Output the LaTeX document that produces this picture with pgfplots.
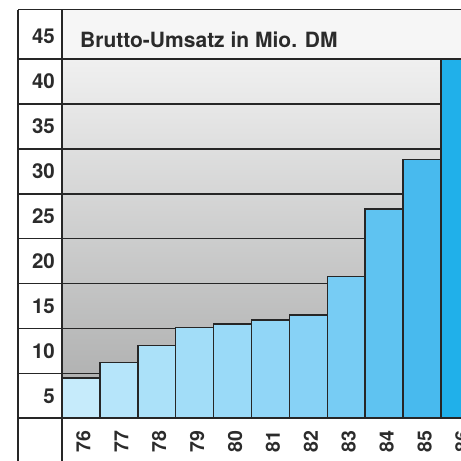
\documentclass[border=0pt]{standalone}
\usepackage{fontspec}
\setmainfont{TeX Gyre Heros}
\usepackage{pgfplots}
\pgfplotsset{compat=1.18}
\definecolor{lc}{HTML}{262626}
\definecolor{tc}{HTML}{2B2B2B}
\definecolor{tband}{HTML}{F6F6F6}
\definecolor{gtop}{HTML}{F0F0F0}
\definecolor{gmid}{HTML}{C8C9C9}
\definecolor{gbot}{HTML}{A9AAAA}
\definecolor{b76}{HTML}{C6EBFB}
\definecolor{b77}{HTML}{B6E5FA}
\definecolor{b78}{HTML}{ABE1F9}
\definecolor{b79}{HTML}{A2DDF8}
\definecolor{b80}{HTML}{9ADAF8}
\definecolor{b81}{HTML}{91D6F7}
\definecolor{b82}{HTML}{87D2F6}
\definecolor{b83}{HTML}{77CCF4}
\definecolor{b84}{HTML}{5FC3F1}
\definecolor{b85}{HTML}{48BAEE}
\definecolor{b86}{HTML}{20B0EA}
\begin{document}
\begin{tikzpicture}
\begin{axis}[
  set layers,
  at={(62pt,42.7pt)}, anchor=south west,
  scale only axis, width=416.9pt, height=408.6pt,
  xmin=-0.5, xmax=10.5, ymin=0, ymax=45.5,
  axis line style={draw=none},
  major tick length=0pt,
  clip=false,
  xtick={0,1,2,3,4,5,6,7,8,9,10},
  xticklabels={\textbf{76},\textbf{77},\textbf{78},\textbf{79},\textbf{80},\textbf{81},\textbf{82},\textbf{83},\textbf{84},\textbf{85},\textbf{86}},
  ytick={2.5,7.5,12.5,17.5,22.5,27.5,32.5,37.5,42.5},
  yticklabels={\textbf{5},\textbf{10},\textbf{15},\textbf{20},\textbf{25},\textbf{30},\textbf{35},\textbf{40},\textbf{45}},
  /pgf/number format/assume math mode=true,
  x tick label style={xshift=2.5pt, rotate=90, anchor=east, inner sep=0pt,
    font=\fontsize{19.5}{22}\selectfont\bfseries, text=tc},
  xticklabel shift=12pt,
  y tick label style={anchor=east, inner sep=0pt,
    font=\fontsize{20.5}{23}\selectfont\bfseries, text=tc},
  yticklabel shift=7pt,
  every axis plot/.append style={ybar, bar width=1, bar shift=0pt, draw=lc, line width=1.5pt},
]
\begin{pgfonlayer}{axis background}
\fill[tband] (axis cs:-0.5,40) rectangle (axis cs:11,45.5);
\shade[top color=gtop, middle color=gmid, bottom color=gbot] (axis cs:-0.5,0) rectangle (axis cs:10.5,40);
\draw[lc, line width=1.6pt] (axis cs:-1.661,5) -- (axis cs:10.5,5);
\draw[lc, line width=1.6pt] (axis cs:-1.661,10) -- (axis cs:10.5,10);
\draw[lc, line width=1.6pt] (axis cs:-1.661,15) -- (axis cs:10.5,15);
\draw[lc, line width=1.6pt] (axis cs:-1.661,20) -- (axis cs:10.5,20);
\draw[lc, line width=1.6pt] (axis cs:-1.661,25) -- (axis cs:10.5,25);
\draw[lc, line width=1.6pt] (axis cs:-1.661,30) -- (axis cs:10.5,30);
\draw[lc, line width=1.6pt] (axis cs:-1.661,35) -- (axis cs:10.5,35);
\end{pgfonlayer}
\addplot[fill=b76] coordinates {(0,4.5)};
\addplot[fill=b77] coordinates {(1,6.2)};
\addplot[fill=b78] coordinates {(2,8.1)};
\addplot[fill=b79] coordinates {(3,10.1)};
\addplot[fill=b80] coordinates {(4,10.5)};
\addplot[fill=b81] coordinates {(5,10.95)};
\addplot[fill=b82] coordinates {(6,11.5)};
\addplot[fill=b83] coordinates {(7,15.8)};
\addplot[fill=b84] coordinates {(8,23.3)};
\addplot[fill=b85] coordinates {(9,28.8)};
\addplot[fill=b86] coordinates {(10,40)};
\draw[lc, line width=1.6pt] (axis cs:-1.661,45.5) -- (axis cs:11,45.5);
\draw[lc, line width=1.6pt] (axis cs:-1.661,40) -- (axis cs:10,40);
\draw[lc, line width=1.6pt] (axis cs:-1.661,0) -- (axis cs:11,0);
\draw[lc, line width=1.6pt] (axis cs:-0.5,45.5) -- (axis cs:-0.5,-6);
\draw[lc, line width=1.6pt] (axis cs:-1.661,45.5) -- (axis cs:-1.661,-6);
\node[anchor=west, inner sep=0pt, font=\fontsize{21}{24}\selectfont\bfseries, text=tc]
  at (axis cs:-0.025,42.18) {Brutto-Umsatz in Mio. DM};
\end{axis}
\pgfresetboundingbox
\path[use as bounding box] (0,0) rectangle (461pt,461pt);
\end{tikzpicture}
\end{document}
